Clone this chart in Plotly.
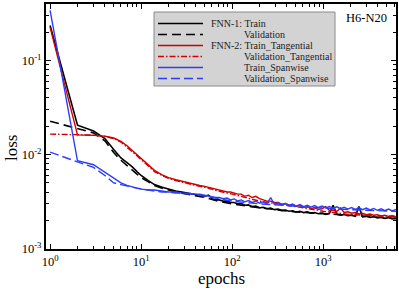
import plotly.graph_objects as go

# ---------------- data ----------------
epochs_early = [1, 2, 3, 4, 5, 6, 7, 8, 9, 10, 12, 14, 17, 20, 24, 28, 33, 38, 44, 50]
epochs_late = [55, 60, 66, 72, 80, 88, 96, 105, 115, 126,
               138, 151, 166, 182, 200, 220, 240, 265, 290, 320,
               350, 385, 420, 460, 505, 555, 610, 670, 735, 805,
               885, 970, 1065, 1170, 1285, 1410, 1550, 1700, 1870, 2050,
               2250, 2470, 2710, 2980, 3270, 3590, 3940, 4330, 4750, 5220,
               5730, 6300]
epochs_val_late = [70, 100, 200, 500, 1000, 2000, 6300]

fnn1_train_early = [0.235, 0.0205, 0.0178, 0.0148, 0.0113, 0.0092, 0.0082, 0.0074, 0.0066, 0.0060,
                    0.0053, 0.0048, 0.0045, 0.0043, 0.0041, 0.0040, 0.0039, 0.0038, 0.0037, 0.0036]
fnn1_train_late = [0.0037, 0.0034, 0.0033, 0.0033, 0.0032, 0.0032, 0.0031, 0.0031, 0.0030, 0.00302,
                   0.0029, 0.00292, 0.0028, 0.00283, 0.00272, 0.00276, 0.00266, 0.0027, 0.0026, 0.00263,
                   0.00254, 0.00258, 0.0025, 0.00253, 0.00246, 0.0025, 0.00242, 0.00246, 0.00238, 0.00242,
                   0.00235, 0.00239, 0.00232, 0.00236, 0.0029, 0.00233, 0.00227, 0.00231, 0.00224, 0.00228,
                   0.00221, 0.0028, 0.00218, 0.00222, 0.00215, 0.00219, 0.00212, 0.00216, 0.0021, 0.00214,
                   0.00207, 0.0021]
fnn1_val_early = [0.0226, 0.0188, 0.0170, 0.0140, 0.0105, 0.0087, 0.0076, 0.0068, 0.0062, 0.0057,
                  0.0051, 0.0047, 0.0044, 0.0042, 0.0040, 0.0039, 0.0038, 0.0037, 0.0036, 0.0035]
fnn1_val_late = [0.0032, 0.0030, 0.00272, 0.00246, 0.00236, 0.00226, 0.0021]

tang_train_early = [0.225, 0.0162, 0.0160, 0.0157, 0.0150, 0.0138, 0.0124, 0.0110, 0.0100, 0.0092,
                    0.0078, 0.0068, 0.0061, 0.0057, 0.0054, 0.0052, 0.0050, 0.0048, 0.0047, 0.0046]
tang_train_late = [0.0045, 0.0044, 0.0043, 0.0042, 0.0041, 0.0040, 0.0040, 0.0039, 0.0038, 0.0038,
                   0.0036, 0.0037, 0.0035, 0.0036, 0.0034, 0.0033, 0.0032, 0.0032, 0.0031, 0.0031,
                   0.00298, 0.00302, 0.0029, 0.00294, 0.00283, 0.00287, 0.00275, 0.0028, 0.00268, 0.00272,
                   0.00262, 0.00266, 0.0028, 0.00254, 0.00258, 0.00249, 0.0027, 0.00243, 0.00247, 0.00238,
                   0.00242, 0.00234, 0.00238, 0.0023, 0.00234, 0.00227, 0.0023, 0.00223, 0.00227, 0.0022,
                   0.00224, 0.00219]
tang_val_early = [0.0165, 0.0163, 0.0161, 0.0156, 0.0148, 0.0136, 0.0121, 0.0107, 0.0097, 0.0089,
                  0.0076, 0.0066, 0.0060, 0.0056, 0.0053, 0.0051, 0.0049, 0.0047, 0.0046, 0.0045]
tang_val_late = [0.0041, 0.0038, 0.0032, 0.0028, 0.0025, 0.0023, 0.0022]

span_train_early = [0.34, 0.0086, 0.0078, 0.0065, 0.0056, 0.0050, 0.0047, 0.0045, 0.0044, 0.0043,
                    0.0042, 0.0042, 0.0041, 0.0040, 0.0040, 0.0039, 0.0039, 0.0038, 0.0038, 0.0037]
span_train_late = [0.0036, 0.0036, 0.0035, 0.0035, 0.0034, 0.00345, 0.0033, 0.00338, 0.00322, 0.0033,
                   0.00315, 0.00325, 0.0031, 0.0032, 0.00305, 0.00315, 0.003, 0.0035, 0.00297, 0.00307,
                   0.00292, 0.00302, 0.00288, 0.00298, 0.00284, 0.00294, 0.0028, 0.0029, 0.00277, 0.00287,
                   0.00274, 0.00284, 0.00271, 0.00281, 0.00269, 0.00279, 0.00266, 0.00276, 0.00264, 0.00274,
                   0.00262, 0.00272, 0.0026, 0.0027, 0.00258, 0.00268, 0.00256, 0.00266, 0.00254, 0.00264,
                   0.00252, 0.00262]
span_val_early = [0.0106, 0.0083, 0.0073, 0.0060, 0.0050, 0.0048, 0.0046, 0.0045, 0.0044, 0.0043,
                  0.0042, 0.0041, 0.0040, 0.0040, 0.0039, 0.0039, 0.0038, 0.0038, 0.0037, 0.0036]
span_val_late = [0.0034, 0.0032, 0.0030, 0.0028, 0.0027, 0.0026, 0.0025]

legend_labels = ["FNN-1: Train", "Validation", "FNN-2: Train_Tangential",
                 "Validation_Tangential", "Train_Spanwise", "Validation_Spanwise"]
x_tick_vals = [1, 10, 100, 1000]
x_tick_text = ["10<sup>0</sup>", "10<sup>1</sup>", "10<sup>2</sup>", "10<sup>3</sup>"]
y_tick_vals = [0.001, 0.01, 0.1]
y_tick_text = ["10<sup>-3</sup>", "10<sup>-2</sup>", "10<sup>-1</sup>"]
x_minor = [2, 3, 4, 5, 6, 7, 8, 9, 20, 30, 40, 50, 60, 70, 80, 90,
           200, 300, 400, 500, 600, 700, 800, 900, 2000, 3000, 4000, 5000, 6000]
y_minor = [0.002, 0.003, 0.004, 0.005, 0.006, 0.007, 0.008, 0.009,
           0.02, 0.03, 0.04, 0.05, 0.06, 0.07, 0.08, 0.09, 0.2, 0.3]

# ---------------- styles ----------------
SERIF = "Liberation Serif, Times New Roman, serif"
styles = [
    dict(color="black", width=1.6, dash="solid"),
    dict(color="black", width=1.6, dash="9px,5px"),
    dict(color="#d00000", width=1.4, dash="solid"),
    dict(color="#d00000", width=1.4, dash="6px,2px,1.5px,2px"),
    dict(color="#2b3cff", width=1.4, dash="solid"),
    dict(color="#2b3cff", width=1.4, dash="9px,4px"),
]

series = [
    (epochs_early + epochs_late, fnn1_train_early + fnn1_train_late),
    (epochs_early + epochs_val_late, fnn1_val_early + fnn1_val_late),
    (epochs_early + epochs_late, tang_train_early + tang_train_late),
    (epochs_early + epochs_val_late, tang_val_early + tang_val_late),
    (epochs_early + epochs_late, span_train_early + span_train_late),
    (epochs_early + epochs_val_late, span_val_early + span_val_late),
]

fig = go.Figure()
for (xs, ys), st, name in zip(series, styles, legend_labels):
    fig.add_trace(go.Scatter(x=xs, y=ys, mode="lines", name=name, line=st,
                             showlegend=False, hoverinfo="skip"))

W, H = 399, 290
ML, MR, MT, MB = 46, 3, 4, 41
PW, PH = W - ML - MR, H - MT - MB


def px_x(p):
    return (p - ML) / PW


def px_y(p):
    return (H - MB - p) / PH


shapes = [dict(type="rect", xref="paper", yref="paper",
               x0=px_x(154), x1=px_x(335), y0=px_y(86), y1=px_y(12),
               fillcolor="#d3d3d3", line=dict(color="#8a8a8a", width=1), layer="above")]
annotations = []
row_y = [23.5, 34.5, 45.5, 56.5, 67.5, 78.5]
text_x = [211, 244, 211, 244, 244, 244]
for i, lab in enumerate(legend_labels):
    st = styles[i]
    shapes.append(dict(type="line", xref="paper", yref="paper",
                       x0=px_x(158), x1=px_x(203), y0=px_y(row_y[i]), y1=px_y(row_y[i]),
                       line=dict(color=st["color"], width=st["width"], dash=st["dash"]),
                       layer="above"))
    annotations.append(dict(xref="paper", yref="paper", x=px_x(text_x[i] - 1), y=px_y(row_y[i]),
                            text=lab, showarrow=False, xanchor="left", yanchor="middle",
                            borderpad=0,
                            font=dict(family=SERIF, size=10, color="#222")))
annotations.append(dict(xref="paper", yref="paper", x=px_x(389), y=px_y(18),
                        text="H6-N20", showarrow=False, xanchor="right", yanchor="middle",
                        font=dict(family=SERIF, size=12.5, color="black")))
annotations.append(dict(xref="paper", yref="paper", x=px_x(221), y=px_y(278),
                        text="epochs", showarrow=False, xanchor="center", yanchor="middle",
                        font=dict(family=SERIF, size=17, color="black")))
annotations.append(dict(xref="paper", yref="paper", x=px_x(11), y=px_y(148),
                        text="loss", showarrow=False, xanchor="center", yanchor="middle",
                        textangle=-90,
                        font=dict(family=SERIF, size=17, color="black")))

axis_common = dict(type="log", showgrid=False, zeroline=False, showline=True,
                   linecolor="black", linewidth=2, mirror="ticks", ticks="inside",
                   ticklen=5, tickwidth=1, tickcolor="black", automargin=False,
                   tickfont=dict(family=SERIF, size=12.5, color="black"))

fig.update_layout(
    width=W, height=H,
    margin=dict(l=ML, r=MR, t=MT, b=MB, pad=0),
    paper_bgcolor="white", plot_bgcolor="white",
    shapes=shapes, annotations=annotations, hovermode=False,
    xaxis=dict(**axis_common, range=[-0.045, 3.80], tickmode="array",
               tickvals=x_tick_vals, ticktext=x_tick_text,
               minor=dict(tickmode="array", tickvals=x_minor, ticks="inside",
                          ticklen=3, tickcolor="black", tickwidth=1, showgrid=False)),
    yaxis=dict(**axis_common, range=[-3.003, -0.40], tickmode="array",
               tickvals=y_tick_vals, ticktext=y_tick_text,
               minor=dict(tickmode="array", tickvals=y_minor, ticks="inside",
                          ticklen=3, tickcolor="black", tickwidth=1, showgrid=False)),
)

fig.write_html("out.html", config={"displayModeBar": False},
               post_script="document.body.style.margin='0';document.body.style.padding='0';")
